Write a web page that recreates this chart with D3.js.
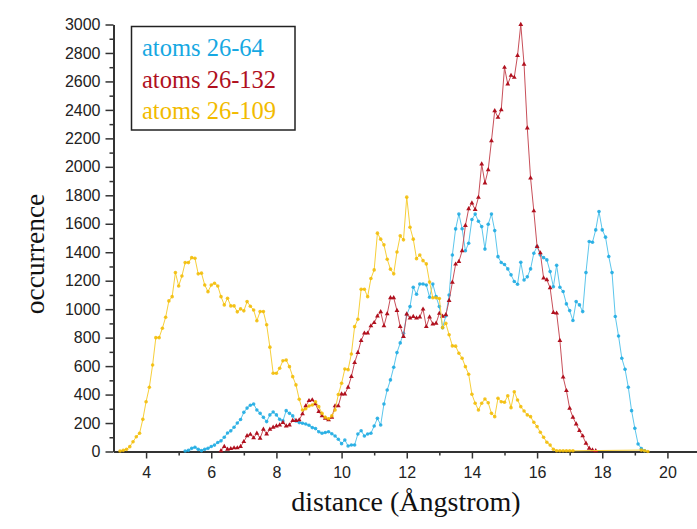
<!DOCTYPE html>
<html>
<head>
<meta charset="utf-8">
<script src="https://cdn.jsdelivr.net/npm/d3@7"></script>
<style>
  body { margin: 0; background: #fff; }
  svg { display: block; }
  .tick text { font-family: "Liberation Sans", Arial, sans-serif; font-size: 16px; fill: #222; }
</style>
</head>
<body>
<svg id="chart" width="697" height="529"></svg>
<script>
// distances are 0.1 A bins; null = empty bin (line is drawn straight across)
const binStep = 0.1;

const blueStart = 5.2;
const blueValues = [3, 8, 22, 30, 15, 6, 15, 22, 35, 45,
  63, 75, 100, 130, 145, 170, 200, 225, 275, 305,
  325, 334, 292, 268, 240, 210, 257, 277, 257, 226,
  215, 287, 268, 250, 215, 203, 198, 193, 184, 168,
  161, 139, 128, 133, 139, 125, 109, 86, 55, 81,
  39, 46, 46, 123, 146, 109, 123, 128, 179, 233,
  186, 334, 432, 503, 592, 695, 763, 831, 960, 1018,
  1154, 1105, 1177, 1177, 1170, 1084, 1177, 1089, 1018, 870,
  953, 1100, 1381, 1564, 1668, 1565, 1410, 1463, 1630, 1668,
  1618, 1580, 1422, 1597, 1668, 1552, 1369, 1328, 1314, 1283,
  1241, 1194, 1175, 1330, 1205, 1227, 1283, 1393, 1440, 1381,
  1362, 1346, 1264, 1157, 1308, 1154, 1124, 1037, 990, 920,
  1053, 1030, 983, 1257, 1475, 1470, 1557, 1686, 1557, 1506,
  1370, 1257, 948, 812, 655, 578, 451, 287, 163, 53,
  20, 5];

const redStart = 6.3;
const redValues = [5, 35, 15, 20, 25, 25, 35, 69, 110, 120,
  95, 128, 93, 156, 123, 156, 170, 179, 186, 203,
  179, 186, 217, 217, 222, 264, 320, 357, 362, 334,
  280, 250, 233, 222, 240, 320, 320, 404, 404, 451,
  526, 624, 695, 779, 831, 831, 882, 905, 952, 981,
  882, 967, 1080, 1080, 990, 877, 807, 965, 938, 948,
  938, 945, 1000, 877, 945, 895, 900, 970, 950, 960,
  1060, 1189, 1316, 1334, 1410, 1587, 1705, 1745, 1700, 1785,
  2019, 1886, 1979, 2183, 2394, 2347, 2401, 2698, 2581, 2642,
  2628, 2782, 3000, 2720, 2272, 1921, 1690, 1440, 1395, 1218,
  1206, 1150, 976, 972, 779, 522, 427, 303, 240, 193,
  146, 109, 57, 22, 10, 5];

const yellowStart = 3.2;
const yellowValues = [3, 8, 15, 34, 69, 104, 128, 226, 350, 451,
  608, 800, 800, 866, 943, 1058, 1088, 1257, 1163, 1233,
  1327, 1327, 1362, 1358, 1248, 1253, 1170, 1123, 1170, 1182,
  1163, 1088, 1030, 1077, 1023, 1023, 981, 1002, 988, 1053,
  1021, 994, 919, 983, 983, 890, 733, 550, 550, 585,
  638, 642, 596, 526, 468, 367, 292, 300, 320, 327,
  350, 315, 268, 240, 230, 250, 292, 400, 479, 580,
  575, 685, 877, 929, 1140, 1140, 1088, 1215, 1276, 1534,
  1492, 1452, 1351, 1281, 1248, 1402, 1515, 1487, 1787, 1576,
  1492, 1355, 1381, 1341, 1318, 1190, 1080, 1080, 1075, 870,
  900, 820, 742, 740, 690, 655, 596, 543, 402, 339,
  292, 339, 369, 343, 268, 245, 374, 350, 346, 392,
  308, 420, 362, 315, 285, 257, 245, 205, 175, 135,
  100, 65, 45, 15, 5, 5, 5, 5, 5, 5,
  null, null, null, null, null, null, null, null, null, null,
  null, null, null, null, null, null, null, null, null, null,
  10, 5, 0];

const legendLabels = ["atoms 26-64", "atoms 26-132", "atoms 26-109"];
const xMajorTicks = [4, 6, 8, 10, 12, 14, 16, 18, 20];
const yMajorTicks = d3.range(0, 3001, 200);

const series = [
  { name: legendLabels[0], start: blueStart, values: blueValues, line: "#5cc6ec", mark: "#16a8e2", shape: "circle" },
  { name: legendLabels[1], start: redStart, values: redValues, line: "#c8505a", mark: "#b0101e", shape: "triangle" },
  { name: legendLabels[2], start: yellowStart, values: yellowValues, line: "#f7cf3a", mark: "#f2bb00", shape: "circle" }
];

const svg = d3.select("#chart");
const x = d3.scaleLinear().domain([3, 21]).range([113.5, 700]);
const y = d3.scaleLinear().domain([0, 3000]).range([451.5, 24.5]);

// minor ticks
const xMinor = d3.range(5, 22, 2);
const yMinor = d3.range(100, 3000, 200);

svg.append("g")
  .attr("transform", "translate(0,451.5)")
  .call(d3.axisBottom(x).tickValues(xMinor).tickSize(4).tickSizeOuter(0).tickFormat(""))
  .call(g => g.select(".domain").remove())
  .call(g => g.selectAll("line").attr("stroke", "#333").attr("stroke-width", 1.5));

svg.append("g")
  .attr("transform", "translate(113.5,0)")
  .call(d3.axisLeft(y).tickValues(yMinor).tickSize(4).tickSizeOuter(0).tickFormat(""))
  .call(g => g.select(".domain").remove())
  .call(g => g.selectAll("line").attr("stroke", "#333").attr("stroke-width", 1.5));

const xAxis = svg.append("g")
  .attr("transform", "translate(0,451.5)")
  .call(d3.axisBottom(x).tickValues(xMajorTicks).tickSize(7).tickSizeOuter(0).tickPadding(8));
xAxis.select(".domain").attr("stroke", "#333").attr("stroke-width", 2);
xAxis.selectAll("line").attr("stroke", "#333").attr("stroke-width", 1.5);

const yAxis = svg.append("g")
  .attr("transform", "translate(113.5,0)")
  .call(d3.axisLeft(y).tickValues(yMajorTicks).tickSize(8).tickSizeOuter(0).tickPadding(5)
    .tickFormat(d3.format("d")));
yAxis.select(".domain").attr("stroke", "#333").attr("stroke-width", 2);
yAxis.selectAll("line").attr("stroke", "#333").attr("stroke-width", 1.5);

// series
const line = d3.line().x(d => x(d[0])).y(d => y(d[1]));
const tri = d3.symbol().type(d3.symbolTriangle).size(10);

series.forEach(s => {
  const pts = s.values
    .map((v, i) => [Math.round((s.start + i * binStep) * 10) / 10, v])
    .filter(d => d[1] !== null);
  const g = svg.append("g");
  g.append("path")
    .datum(pts)
    .attr("fill", "none")
    .attr("stroke", s.line)
    .attr("stroke-width", 1)
    .attr("d", line);
  if (s.shape === "circle") {
    g.selectAll("circle").data(pts).join("circle")
      .attr("cx", d => x(d[0])).attr("cy", d => y(d[1]))
      .attr("r", 1.8).attr("fill", s.mark).attr("fill-opacity", 0.85);
  } else {
    g.selectAll("path.m").data(pts).join("path")
      .attr("class", "m")
      .attr("transform", d => `translate(${x(d[0])},${y(d[1])})`)
      .attr("d", tri).attr("fill", s.mark);
  }
});

// legend
svg.append("rect")
  .attr("x", 131.5).attr("y", 26.5).attr("width", 163.5).attr("height", 103.5)
  .attr("fill", "#fff").attr("stroke", "#222").attr("stroke-width", 1.5);
series.forEach((s, i) => {
  svg.append("text")
    .attr("x", 142).attr("y", 56 + i * 31.5)
    .attr("font-family", "'Liberation Serif', 'Times New Roman', serif")
    .attr("font-size", 24.5)
    .attr("fill", s.mark)
    .text(s.name);
});

// axis titles
svg.append("text")
  .attr("x", 406).attr("y", 511)
  .attr("text-anchor", "middle")
  .attr("font-family", "'Liberation Serif', 'Times New Roman', serif")
  .attr("font-size", 28)
  .attr("fill", "#111")
  .text("distance (Ångstrom)");

svg.append("text")
  .attr("transform", "translate(44,254) rotate(-90)")
  .attr("text-anchor", "middle")
  .attr("font-family", "'Liberation Serif', 'Times New Roman', serif")
  .attr("font-size", 27.5)
  .attr("fill", "#111")
  .text("occurrence");
</script>
</body>
</html>
